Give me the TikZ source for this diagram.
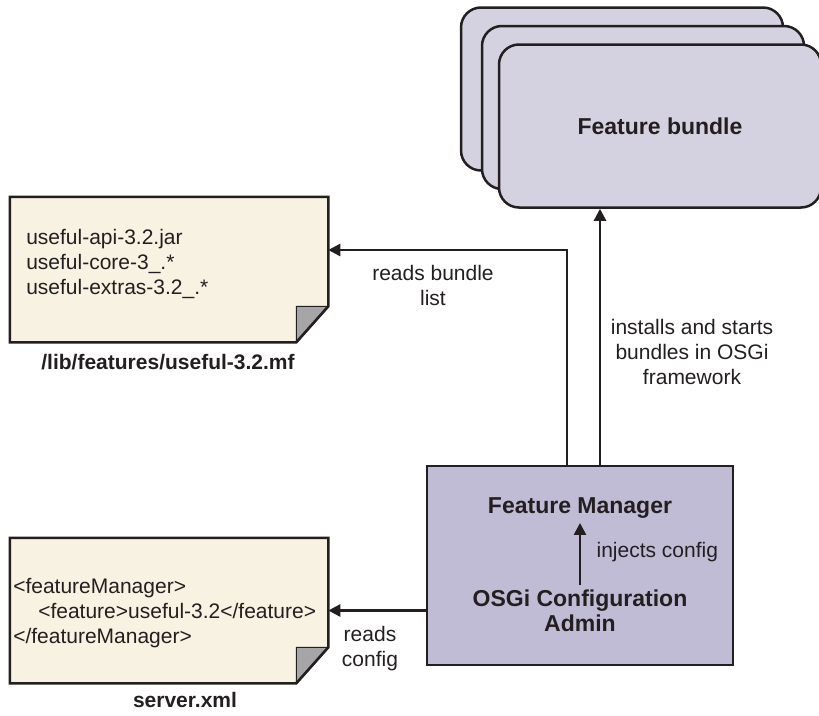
\documentclass[tikz,border=0pt]{standalone}
\usepackage{fontspec}
\setmainfont{Liberation Sans}
\usetikzlibrary{arrows.meta}
\definecolor{notefill}{RGB}{247,242,225}
\definecolor{foldgray}{RGB}{166,166,168}
\definecolor{mgrfill}{RGB}{192,188,214}
\definecolor{bundlefill}{RGB}{212,210,224}
\definecolor{inkgray}{RGB}{35,31,32}
\newcommand{\normtext}{\fontsize{21}{25}\selectfont}
\newcommand{\boldtext}{\fontsize{23}{25}\selectfont\bfseries}
\newcommand{\captext}{\fontsize{21}{25}\selectfont\bfseries}

\begin{document}
\begin{tikzpicture}[x=1pt, y=-1pt, line width=2.5pt, color=inkgray,
    note/.style={minimum width=316pt, minimum height=143pt, inner sep=0pt},
    bundlebox/.style={draw, fill=bundlefill, rounded corners=20pt,
      minimum width=322pt, minimum height=163pt},
    mgrbox/.style={draw, fill=mgrfill, minimum width=306pt, minimum height=199pt},
    lbl/.style={align=center, font=\normtext},
    flow/.style={-{Triangle[length=12pt, width=12pt]}}]
    \useasboundingbox (0,0) rectangle (819,715);

    % stack of bundles
    \node[bundlebox] (bundleA) at (622,89) {};
    \node[bundlebox] (bundleB) at (643,107.5) {};
    \node[bundlebox, font=\boldtext] (bundleC) at (660,126) {Feature bundle};

    % the two files
    \node[note] (mflist) at (169,269.5) {};
    \node[note] (xml) at (169,610.5) {};
    \foreach \f in {mflist, xml}
    {\draw[fill=notefill] (\f.north west) -- (\f.north east) --
      ([yshift=36pt]\f.south east) -- ([xshift=-32pt]\f.south east) --
      (\f.south west) -- cycle;
     \draw[fill=foldgray, line width=1pt] ([yshift=36pt]\f.south east) --
      ([xshift=-32pt, yshift=36pt]\f.south east) -- ([xshift=-32pt]\f.south east) -- cycle;
     \draw ([yshift=36pt]\f.south east) -- ([xshift=-32pt]\f.south east);
    }
    \node[anchor=west, align=left, font=\normtext, inner sep=0pt] (mftext) at (25,264)
      {useful-api-3.2.jar\\useful-core-3\_.*\\useful-extras-3.2\_.*};
    \node[anchor=west, align=left, font=\normtext, inner sep=0pt] (xmltext) at (12,613)
      {<featureManager>\\\hspace*{25pt}<feature>useful-3.2</feature>\\</featureManager>};
    \node[font=\captext] (mfcap) at (168,362) {/lib/features/useful-3.2.mf};
    \node[font=\captext] (xmlcap) at (185,700) {server.xml};

    % manager
    \node[mgrbox] (mgr) at (580,565.5) {};
    \node[font=\boldtext] (fm) at (580,508) {Feature Manager};
    \node[font=\boldtext, align=center] (osgi) at (580,610.5) {OSGi Configuration\\Admin};
    \draw[flow] (osgi) -- (fm);
    \node[anchor=west, font=\normtext] (inject) at (592,552) {injects config};

    % connectors
    \draw[flow] ([xshift=20pt]mgr.north) -- ([xshift=20pt]mgr.north |- bundleC.south);
    \draw[flow] ([xshift=-13pt]mgr.north) |- ([yshift=19.5pt]mflist.east);
    \draw[flow] (mgr.west |- xml.east) -- (xml.east);
    \node[lbl] (readlist) at (433,285.5) {reads bundle\\list};
    \node[lbl] (install) at (692,352) {installs and starts\\bundles in OSGi\\framework};
    \node[lbl] (readcfg) at (370,649) {reads\\config};
\end{tikzpicture}
\end{document}
